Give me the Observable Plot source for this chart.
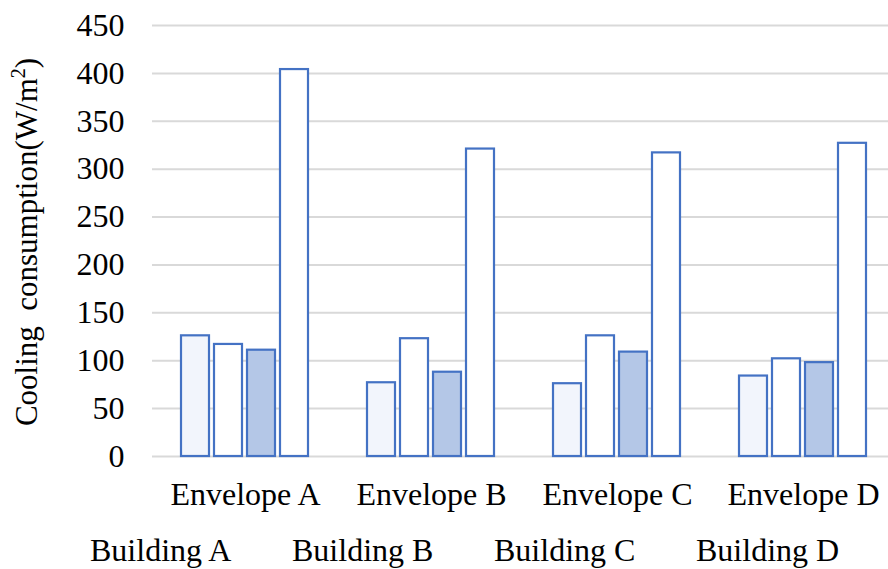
<!DOCTYPE html>
<html>
<head>
<meta charset="utf-8">
<script src="https://cdn.jsdelivr.net/npm/d3@7"></script>
<script src="https://cdn.jsdelivr.net/npm/@observablehq/plot@0.6"></script>
<style>
  html, body { margin: 0; padding: 0; background: #fff; }
  #wrap { position: relative; width: 888px; height: 569px; overflow: hidden; font-family: "Liberation Serif", "Times New Roman", serif; }
  #legend { position: relative; height: 54px; }
  #legend span { position: absolute; top: 17px; font-size: 32px; line-height: 36px; color: #000; white-space: nowrap; }
  #ylabel { position: absolute; left: 28px; top: 242px; transform: translate(-50%, -50%) rotate(-90deg); font-size: 31px; line-height: 34px; white-space: pre; color: #000; }
  #ylabel sup { font-size: 20px; vertical-align: 0; position: relative; top: -12px; }
</style>
</head>
<body>
<div id="wrap"><div id="chart"></div><div id="legend"></div><div id="ylabel"></div></div>
<script>
const envelopes = ["Envelope A", "Envelope B", "Envelope C", "Envelope D"];
const buildings = ["Building A", "Building B", "Building C", "Building D"];
// values per building, across envelopes A..D
const buildingA = [126, 77, 76, 84];
const buildingB = [117, 123, 126, 102];
const buildingC = [111, 88, 109, 98];
const buildingD = [404, 321, 317, 327];
const yTicks = [0, 50, 100, 150, 200, 250, 300, 350, 400, 450];
const fills = ["#f2f5fc", "#ffffff", "#b4c7e7", "#ffffff"];
const yLabelMain = "Cooling  consumption(W/m";
const yLabelSup = "2";
const yLabelEnd = ")";

const series = [buildingA, buildingB, buildingC, buildingD];
const data = [];
envelopes.forEach((e, i) => buildings.forEach((b, j) => data.push({envelope: e, building: b, value: series[j][i]})));

const chart = Plot.plot({
  width: 888,
  height: 515,
  marginLeft: 150,
  marginRight: -9,
  marginTop: 25,
  marginBottom: 59,
  style: {fontFamily: "Liberation Serif, Times New Roman, serif", fontSize: "32px", color: "#000", background: "#fff"},
  facet: {data, x: "envelope"},
  fx: {domain: envelopes, padding: 0, label: null, tickSize: 0, tickPadding: 26},
  x: {domain: buildings, axis: null, paddingInner: 0.147, paddingOuter: 0.82},
  y: {domain: [0, 450], ticks: yTicks, tickSize: 0, tickPadding: 28, label: null},
  color: {domain: buildings, range: fills},
  marks: [
    Plot.ruleY(yTicks, {stroke: "#d9d9d9", strokeWidth: 2}),
    Plot.barY(data, {x: "building", y: "value", fill: "building", stroke: "#4472c4", strokeWidth: 2.2})
  ]
});
document.getElementById("chart").appendChild(chart);

const yl = document.getElementById("ylabel");
yl.appendChild(document.createTextNode(yLabelMain));
const sup = document.createElement("sup");
sup.textContent = yLabelSup;
yl.appendChild(sup);
yl.appendChild(document.createTextNode(yLabelEnd));

const legend = document.getElementById("legend");
buildings.forEach((b, i) => {
  const s = document.createElement("span");
  s.textContent = b;
  s.style.left = (90 + i * 202) + "px";
  legend.appendChild(s);
});
</script>
</body>
</html>
